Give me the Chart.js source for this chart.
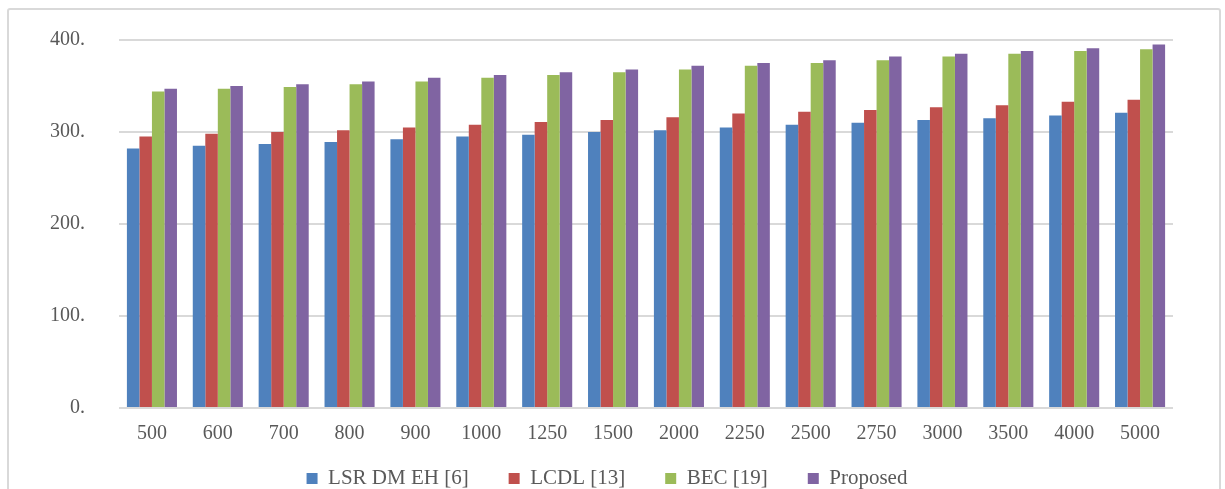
<!DOCTYPE html>
<html>
<head>
<meta charset="utf-8">
<script src="https://cdn.jsdelivr.net/npm/chart.js@4"></script>
<style>
  html, body { margin: 0; padding: 0; background: #fff; overflow: hidden; }
  #wrap { position: relative; width: 1225px; height: 489px; }
  #frame { position: absolute; left: 7px; top: 8px; width: 1210px; height: 500px;
           border: 2px solid #d9d9d9; border-radius: 3px; }
  canvas { position: absolute; left: 0; top: 0; }
</style>
</head>
<body>
<div id="wrap">
  <div id="frame"></div>
  <canvas id="grafica" width="1225" height="489"></canvas>
</div>
<script>
// categorias del eje x
const categorias = ["500", "600", "700", "800", "900", "1000", "1250", "1500",
                    "2000", "2250", "2500", "2750", "3000", "3500", "4000", "5000"];

// series
const lsrDmEh   = [282, 285, 287, 289, 292, 295, 297, 300, 302, 305, 308, 310, 313, 315, 318, 321];
const lcdl      = [295, 298, 300, 302, 305, 308, 311, 313, 316, 320, 322, 324, 327, 329, 333, 335];
const bec       = [344, 347, 349, 352, 355, 359, 362, 365, 368, 372, 375, 378, 382, 385, 388, 390];
const propuesto = [347, 350, 352, 355, 359, 362, 365, 368, 372, 375, 378, 382, 385, 388, 391, 395];

const nombres = ["LSR DM EH [6]", "LCDL [13]", "BEC [19]", "Proposed"];
const colores = ["#4F81BD", "#C0504D", "#9BBB59", "#8064A2"];

// ticks del eje y
const ticksY = [0, 100, 200, 300, 400];

const fuente = "'Liberation Serif', 'Times New Roman', serif";
const gris = "#595959";

const series = [lsrDmEh, lcdl, bec, propuesto];

// la leyenda necesita mucho espacio horizontal entre items, pero poco vertical:
// despues del layout se sube un poco
const subirLeyenda = {
    id: 'subirLeyenda',
    afterLayout(chart) {
        chart.legend.top -= 18;
        chart.legend.bottom -= 18;
    }
};

const ctx = document.getElementById("grafica").getContext("2d");

new Chart(ctx, {
    type: 'bar',
    data: {
        labels: categorias,
        datasets: series.map((datos, i) => ({
            label: nombres[i],
            data: datos,
            backgroundColor: colores[i],
            borderWidth: 0,
            categoryPercentage: 0.76,
            barPercentage: 1.0
        }))
    },
    plugins: [subirLeyenda],
    options: {
        responsive: false,
        animation: false,
        layout: {
            padding: { top: 40, right: 52, left: 41, bottom: -28 }
        },
        plugins: {
            tooltip: { enabled: false },
            legend: {
                position: 'bottom',
                labels: {
                    boxWidth: 11,
                    boxHeight: 11,
                    padding: 40,
                    color: gris,
                    font: { family: fuente, size: 21 }
                }
            }
        },
        scales: {
            x: {
                grid: { display: false, drawTicks: false },
                border: { display: false },
                afterFit: (escala) => { escala.height = 38; },
                ticks: {
                    color: gris,
                    padding: 14,
                    font: { family: fuente, size: 20 }
                }
            },
            y: {
                min: 0,
                max: 400,
                afterFit: (escala) => {
                    escala.width = 78;
                    escala.paddingTop = 0;
                    escala.paddingBottom = 0;
                },
                afterBuildTicks: (escala) => {
                    escala.ticks = ticksY.map(v => ({ value: v }));
                },
                grid: { color: "#d9d9d9", lineWidth: 2, drawTicks: false },
                border: { display: false },
                ticks: {
                    color: gris,
                    padding: 34,
                    font: { family: fuente, size: 20 },
                    callback: (v) => v + "."
                }
            }
        }
    }
});
</script>
</body>
</html>
